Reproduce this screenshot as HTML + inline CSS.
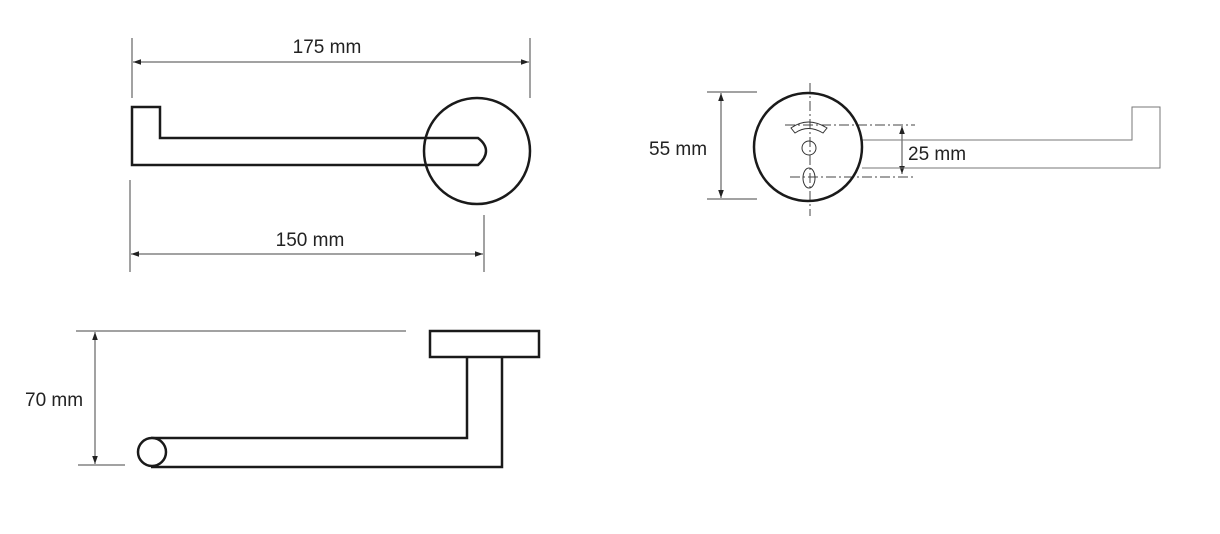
<!DOCTYPE html>
<html><head><style>
body{margin:0;background:#fff;}
svg{display:block;}
text{font-family:"Liberation Sans",sans-serif;font-size:19px;fill:#222;}
</style></head><body>
<svg width="1220" height="534" viewBox="0 0 1220 534" xmlns="http://www.w3.org/2000/svg">
<defs>
<marker id="a" viewBox="0 0 10 10" refX="10" refY="5" markerWidth="8" markerHeight="8" orient="auto-start-reverse" markerUnits="userSpaceOnUse"><path d="M0,1.5 L10,5 L0,8.5 z" fill="#222"/></marker>
</defs>
<!-- Top view -->
<g stroke="#444" stroke-width="1" fill="none">
<line x1="132" y1="38" x2="132" y2="98"/>
<line x1="530" y1="38" x2="530" y2="98"/>
<line x1="133" y1="62" x2="529" y2="62" marker-start="url(#a)" marker-end="url(#a)"/>
<line x1="130" y1="180" x2="130" y2="272"/>
<line x1="484" y1="215" x2="484" y2="272"/>
<line x1="131" y1="254" x2="483" y2="254" marker-start="url(#a)" marker-end="url(#a)"/>
</g>
<text x="327" y="53" text-anchor="middle">175 mm</text>
<text x="310" y="246" text-anchor="middle">150 mm</text>
<g stroke="#1a1a1a" stroke-width="2.5" fill="none">
<circle cx="477" cy="151" r="53"/>
<path d="M132,107 H160 V138 H478 Q486,144 486,151 Q486,158 478,165 H132 Z"/>
</g>
<!-- Side view right -->
<g stroke="#444" stroke-width="1" fill="none">
<line x1="707" y1="92" x2="757" y2="92"/>
<line x1="707" y1="199" x2="757" y2="199"/>
<line x1="721" y1="93" x2="721" y2="198" marker-start="url(#a)" marker-end="url(#a)"/>
<line x1="902" y1="126" x2="902" y2="174" marker-start="url(#a)" marker-end="url(#a)"/>
<path stroke="#777" d="M862,140 H1132 V107 H1160 V168 H862"/>
<g stroke-dasharray="10,3,2,3">
<line x1="810" y1="83" x2="810" y2="216"/>
<line x1="785" y1="125" x2="915" y2="125"/>
<line x1="790" y1="177" x2="915" y2="177"/>
</g>
<path d="M791,128 Q808,116 827,128 L823,133 Q808,124 795,133 Z" stroke="#333"/>
<circle cx="809" cy="148" r="7" stroke="#333"/>
<ellipse cx="809" cy="178" rx="6" ry="10" stroke="#333"/>
</g>
<circle cx="808" cy="147" r="54" stroke="#1a1a1a" stroke-width="2.5" fill="none"/>
<text x="649" y="155">55 mm</text>
<text x="908" y="160">25 mm</text>
<!-- Front view bottom -->
<g stroke="#444" stroke-width="1" fill="none">
<line x1="76" y1="331" x2="406" y2="331"/>
<line x1="78" y1="465" x2="125" y2="465"/>
<line x1="95" y1="332" x2="95" y2="464" marker-start="url(#a)" marker-end="url(#a)"/>
</g>
<text x="25" y="406">70 mm</text>
<g stroke="#1a1a1a" stroke-width="2.5" fill="none">
<rect x="430" y="331" width="109" height="26"/>
<path d="M151,438 H467 V357"/>
<path d="M151,467 H502 V357"/>
<circle cx="152" cy="452" r="14" fill="#fff"/>
</g>
</svg>
</body></html>
